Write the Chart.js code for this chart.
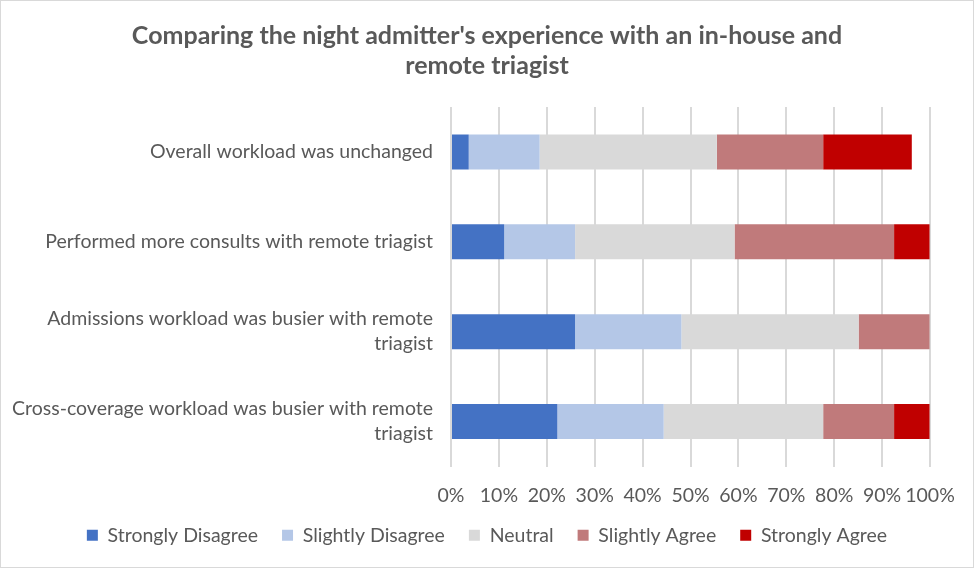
<!DOCTYPE html>
<html>
<head>
<meta charset="utf-8">
<script src="https://cdn.jsdelivr.net/npm/chart.js@4"></script>
<style>
  html, body { margin: 0; padding: 0; background: #fff; }
  #wrap { width: 972px; height: 566px; border: 1px solid #d9d9d9; }
</style>
</head>
<body>
<div id="wrap"><canvas id="chart" width="972" height="566"></canvas></div>
<script>
// survey answers, percent of respondents
const categories = [
  "Overall workload was unchanged",
  "Performed more consults with remote triagist",
  ["Admissions workload was busier with remote", "triagist"],
  ["Cross-coverage workload was busier with remote", "triagist"]
]
const stronglyDisagree = [3.7, 11.1, 25.9, 22.2]
const slightlyDisagree = [14.8, 14.8, 22.2, 22.2]
const neutral = [37.0, 33.3, 37.0, 33.3]
const slightlyAgree = [22.2, 33.3, 14.8, 14.8]
const stronglyAgree = [18.5, 7.4, 0, 7.4]
const xTicks = [0, 10, 20, 30, 40, 50, 60, 70, 80, 90, 100]

const textColor = '#595959'
const font = 'Lato, "Open Sans", sans-serif'

const datasets = [
  { label: "Strongly Disagree", data: stronglyDisagree, backgroundColor: '#4472C4' },
  { label: "Slightly Disagree", data: slightlyDisagree, backgroundColor: '#B4C7E7' },
  { label: "Neutral", data: neutral, backgroundColor: '#D9D9D9' },
  { label: "Slightly Agree", data: slightlyAgree, backgroundColor: '#C07A7B' },
  { label: "Strongly Agree", data: stronglyAgree, backgroundColor: '#C00000' }
].map(d => Object.assign(d, { barPercentage: 0.39, categoryPercentage: 1 }))

// title and legend are centred on the whole canvas, not on the padded area;
// x tick labels may hang below the (shortened) axis box
const fixLayout = {
  id: 'fixLayout',
  afterLayout(chart) {
    [chart.titleBlock, chart.legend].forEach(b => {
      b.left = 43
      b.right = chart.width - 43
      b.width = b.right - b.left
    })
    chart.scales.x.bottom = chart.scales.x.top + 50
  }
}

new Chart(document.getElementById('chart'), {
  type: 'bar',
  data: { labels: categories, datasets: datasets },
  options: {
    indexAxis: 'y',
    responsive: false,
    animation: false,
    layout: { padding: { left: 0, right: 43, top: 0, bottom: 12 } },
    plugins: {
      title: {
        display: true,
        text: ["Comparing the night admitter's experience with an in-house and", "remote triagist"],
        color: textColor,
        font: { family: font, size: 25, weight: 'bold', lineHeight: 1.2 },
        padding: { top: 20, bottom: 26 }
      },
      legend: {
        position: 'bottom',
        labels: {
          color: textColor,
          font: { family: font, size: 19.5 },
          boxWidth: 11,
          boxHeight: 11,
          padding: 24
        }
      },
      tooltip: { enabled: false }
    },
    scales: {
      x: {
        stacked: true,
        min: 0,
        max: 100,
        afterBuildTicks: axis => { axis.ticks = xTicks.map(v => ({ value: v })) },
        afterFit: axis => { axis.height = 35 },
        ticks: {
          color: textColor,
          font: { family: font, size: 19.5 },
          padding: 18,
          maxRotation: 0,
          minRotation: 0,
          autoSkip: false,
          callback: v => v + '%'
        },
        grid: { color: '#d9d9d9', lineWidth: 2, drawTicks: false },
        border: { display: false }
      },
      y: {
        stacked: true,
        ticks: {
          color: textColor,
          font: { family: font, size: 19.5, lineHeight: 1.28 },
          padding: 18
        },
        grid: { display: false, drawTicks: false },
        border: { display: false },
        afterFit: axis => { axis.width = 450 }
      }
    }
  },
  plugins: [fixLayout]
})
</script>
</body>
</html>
